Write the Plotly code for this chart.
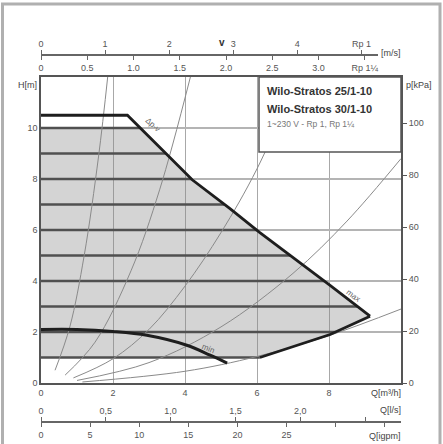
import numpy as np
import plotly.graph_objects as go

# ---------------- data ----------------
# max curve (delta p-v, max setting)  Q [m3/h], H [m]
q_max = [0.0, 2.4, 3.4, 4.2, 5.25, 6.08, 8.03, 9.14]
h_max = [10.5, 10.5, 9.1, 7.97, 6.84, 5.9, 3.83, 2.62]
# lower boundary of the shaded field
q_low = [9.14, 8.03, 6.08, 0.0]
h_low = [2.62, 1.9, 1.0, 1.0]
# min curve
q_min = [0.0, 1.0, 2.0, 2.94, 4.05, 4.7, 5.17]
h_min = [2.1, 2.1, 2.02, 1.87, 1.48, 1.09, 0.78]
fill_top = 10.0
stripe_levels = [1, 2, 3, 4, 5, 6, 7, 8, 9, 10]

# system curves (thin)
sys1_q = [0.39, 0.8, 1.2, 1.6, 1.86]
sys1_h = [0.5, 2.2, 5.0, 8.9, 12.1]
sys2_q = [0.67, 1.5, 2.5, 3.3, 4.15]
sys2_h = [0.31, 1.6, 4.4, 7.6, 12.0]
sys3_q = [0.9, 2.0, 3.0, 4.0, 5.0, 6.0, 7.2]
sys3_h = [0.2, 0.95, 2.1, 3.8, 5.9, 8.4, 12.2]
sys4_q = [1.0, 3.0, 5.0, 7.0, 8.5, 10.0]
sys4_h = [0.1, 0.8, 2.2, 4.3, 6.35, 8.8]
sys5_q = [1.15, 4.0, 6.0, 8.0, 10.0]
sys5_h = [0.04, 0.46, 1.04, 1.86, 2.9]

# axis ticks
q_ticks = [0, 2, 4, 6, 8]
h_ticks = [0, 2, 4, 6, 8, 10]
kpa_ticks = [0, 20, 40, 60, 80, 100]
KPA_PER_M = 9.81
v1_vals = [0, 1, 2, 3, 4, 5]
v1_text = ["0", "1", "2", "3", "4", "Rp 1"]
V1_FACTOR = 1.78      # m3/h per m/s, Rp 1
v2_vals = [0, 0.5, 1.0, 1.5, 2.0, 2.5, 3.0, 3.5]
v2_text = ["0", "0.5", "1.0", "1.5", "2.0", "2.5", "3.0", "Rp 1¼"]
V2_FACTOR = 2.57      # m3/h per m/s, Rp 1 1/4
ls_vals = [0, 0.5, 1.0, 1.5, 2.0, 2.5]
ls_text = ["0", "0,5", "1,0", "1,5", "2,0", ""]
LS_FACTOR = 3.6
gpm_vals = [0, 5, 10, 15, 20, 25, 30, 35]
gpm_text = ["0", "5", "10", "15", "20", "25", "", ""]
GPM_FACTOR = 0.2728

# ---------------- derived geometry ----------------
hm_r = np.array(h_max[::-1]); qm_r = np.array(q_max[::-1])
hl = np.array(h_low[:3][::-1]); ql = np.array(q_low[:3][::-1])
q_at_top = float(np.interp(fill_top, hm_r, qm_r))

poly_q = [0.0, 0.0, q_at_top] + [q for q, h in zip(q_max, h_max) if h < fill_top] + q_low[1:]
poly_h = [h_low[-1], fill_top, fill_top] + [h for h in h_max if h < fill_top] + h_low[1:]

sx, sy = [], []
for lv in stripe_levels:
    if lv >= h_max[-1]:
        qe = float(np.interp(lv, hm_r, qm_r))
    else:
        qe = float(np.interp(lv, hl, ql))
    sx += [0.0, qe, None]
    sy += [lv, lv, None]

FONT = "Liberation Sans, Arial, sans-serif"
TC = "#555555"

fig = go.Figure()
fig.add_trace(go.Scatter(x=poly_q, y=poly_h, fill="toself", mode="lines",
                         line=dict(width=0), fillcolor="rgba(135,135,135,0.36)",
                         hoverinfo="skip", showlegend=False))
fig.add_trace(go.Scatter(x=sx, y=sy, mode="lines", line=dict(color="#505050", width=2.4),
                         hoverinfo="skip", showlegend=False))
for qq, hh in [(sys1_q, sys1_h), (sys2_q, sys2_h), (sys3_q, sys3_h),
               (sys4_q, sys4_h), (sys5_q, sys5_h)]:
    fig.add_trace(go.Scatter(x=qq, y=hh, mode="lines",
                             line=dict(color="#8a8a8a", width=1, shape="spline"),
                             hoverinfo="skip", showlegend=False))
fig.add_trace(go.Scatter(x=q_low[:3], y=h_low[:3], mode="lines",
                         line=dict(color="#1e1e1e", width=2.8), showlegend=False))
fig.add_trace(go.Scatter(x=q_max, y=h_max, mode="lines",
                         line=dict(color="#1e1e1e", width=2.8), showlegend=False))
fig.add_trace(go.Scatter(x=q_min, y=h_min, mode="lines",
                         line=dict(color="#1e1e1e", width=3, shape="spline"), showlegend=False))
# dummy traces to activate auxiliary axes (on a hidden y axis so no extra grid is drawn)
for xa in ["x3", "x4", "x5", "x6"]:
    fig.add_trace(go.Scatter(x=[0], y=[0], xaxis=xa, yaxis="y3", mode="markers",
                             marker=dict(opacity=0), hoverinfo="skip", showlegend=False))
fig.add_trace(go.Scatter(x=[0], y=[0], xaxis="x", yaxis="y2", mode="markers",
                         marker=dict(opacity=0), hoverinfo="skip", showlegend=False))

ydom = [(434 - 383) / 414, (434 - 77) / 414]
top_pos = (434 - 55) / 414
bot_pos = (434 - 422) / 414
top_dom = (378 - 41) / 360

tickfont = dict(family=FONT, size=9, color=TC)
aux_common = dict(anchor="free", showgrid=False, zeroline=False, showline=True,
                  linecolor="#666666", linewidth=1.5, ticks="outside", ticklen=4,
                  tickcolor="#666666", tickfont=tickfont, tickmode="array", automargin=False)

fig.update_layout(
    template="none",
    width=443, height=444,
    margin=dict(l=41, r=42, t=20, b=10, autoexpand=False),
    paper_bgcolor="white", plot_bgcolor="rgba(0,0,0,0)",
    font=dict(family=FONT, size=9, color=TC),
    xaxis=dict(domain=[0, 1], range=[0, 10], tickmode="array", tickvals=q_ticks,
               showgrid=True, gridcolor="#a8a8a8", gridwidth=1.3, zeroline=False,
               showline=True, linecolor="#555555", linewidth=1.6, mirror=True,
               ticks="", tickfont=tickfont, automargin=False),
    yaxis=dict(domain=ydom, range=[0, 12], tickmode="array", tickvals=h_ticks,
               showgrid=True, gridcolor="#b4b4b4", gridwidth=1.5, zeroline=False,
               showline=True, linecolor="#555555", linewidth=1.6, mirror=True,
               ticks="", tickfont=tickfont, automargin=False),
    yaxis2=dict(overlaying="y", side="right", anchor="x", range=[0, 12 * KPA_PER_M],
                tickmode="array", tickvals=kpa_ticks, showgrid=False, zeroline=False,
                ticks="outside", ticklen=5, tickcolor="#555555", tickfont=tickfont,
                automargin=False),
    yaxis3=dict(domain=ydom, range=[0, 1], visible=False, showgrid=False, zeroline=False,
                anchor="free", position=0, automargin=False),
    xaxis3=dict(position=top_pos, domain=[0, top_dom], range=[0, 10 * top_dom], side="top",
                tickvals=[v * V1_FACTOR for v in v1_vals], ticktext=v1_text, **aux_common),
    xaxis4=dict(position=top_pos, domain=[0, top_dom], range=[0, 10 * top_dom], side="bottom",
                tickvals=[v * V2_FACTOR for v in v2_vals], ticktext=v2_text, **aux_common),
    xaxis5=dict(position=bot_pos, domain=[0, 1], range=[0, 10], side="top",
                tickvals=[v * LS_FACTOR for v in ls_vals], ticktext=ls_text, **aux_common),
    xaxis6=dict(position=bot_pos, domain=[0, 1], range=[0, 10], side="bottom",
                tickvals=[v * GPM_FACTOR for v in gpm_vals], ticktext=gpm_text, **aux_common),
)


def px(x):
    return (x - 41) / 360


def py(y):
    return (434 - y) / 414


# outer frame and legend box
fig.add_shape(type="rect", xref="paper", yref="paper", x0=px(2.5), x1=px(440), y0=py(450), y1=py(4),
              line=dict(color="#b0b0b0", width=3), fillcolor="rgba(0,0,0,0)", layer="below")
fig.add_shape(type="rect", xref="paper", yref="paper", x0=px(259), x1=1.0, y0=py(152), y1=ydom[1],
              line=dict(color="#555555", width=1.5), fillcolor="white", layer="above")

ann = []


def txt(t, x, y, xanchor="center", size=9, color=TC, bold=False, angle=0, ref="paper"):
    ann.append(dict(text=("<b>%s</b>" % t) if bold else t, x=x, y=y, xref=ref if ref == "paper" else "x",
                    yref=ref if ref == "paper" else "y", xanchor=xanchor, yanchor="middle",
                    showarrow=False, textangle=angle,
                    font=dict(family=FONT, size=size, color=color)))


txt("Wilo-Stratos 25/1-10", px(265), py(91), "left", size=11, color="#333333", bold=True)
txt("Wilo-Stratos 30/1-10", px(265), py(109), "left", size=11, color="#333333", bold=True)
txt("1~230 V - Rp 1, Rp 1¼", px(265), py(124), "left", size=8.5, color="#777777")
txt("H[m]", px(39), py(85), "right", color="#444444")
txt("p[kPa]", px(404), py(85), "left", color="#444444")
txt("v", px(222), py(42), "center", size=10, color="#333333", bold=True)
txt("[m/s]", px(379), py(53), "left", color="#444444")
txt("Q[m³/h]", px(403), py(393), "right", color="#444444")
txt("Q[l/s]", px(403), py(410), "right", color="#444444")
txt("Q[igpm]", px(403), py(436), "right", color="#444444")
txt("Δp-v", 3.1, 10.15, "center", size=8, color="#666666", angle=42, ref="data")
txt("max", 8.67, 3.44, "center", size=8, color="#666666", angle=37, ref="data")
txt("min", 4.64, 1.37, "center", size=8, color="#666666", angle=22, ref="data")
fig.update_layout(annotations=ann)

fig.write_html("out.html", config={"displayModeBar": False},
               post_script="document.body.style.margin='0';document.body.style.overflow='hidden';")
